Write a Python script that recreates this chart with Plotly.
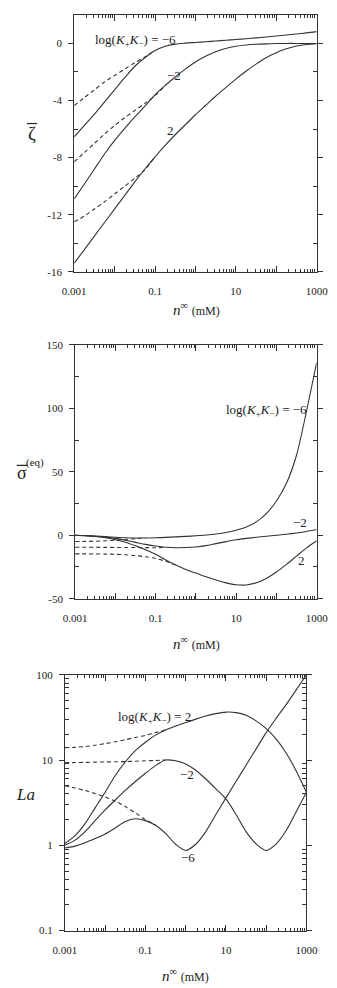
import plotly.graph_objects as go

# ---------------- data ----------------
# x grid (mM), quarter-decade steps from 0.001 to 1000
n_mM = [0.001, 0.00178, 0.00316, 0.00562, 0.01, 0.0178, 0.0316, 0.0562, 0.1, 0.178, 0.316, 0.562,
        1, 1.78, 3.16, 5.62, 10, 17.8, 31.6, 56.2, 100, 178, 316, 562, 1000]

# Panel 1: zeta-bar
zeta_m6 = [-6.55, -5.75, -4.95, -4.1, -3.25, -2.4, -1.6, -1.0, -0.5, -0.2, -0.05, 0.02, 0.07, 0.12,
           0.17, 0.22, 0.28, 0.33, 0.39, 0.45, 0.52, 0.59, 0.66, 0.74, 0.83]
zeta_m2 = [-10.9, -9.85, -8.8, -7.75, -6.8, -5.95, -5.15, -4.4, -3.6, -2.95, -2.35, -1.8, -1.3, -0.9,
           -0.58, -0.35, -0.2, -0.11, -0.06, -0.03, -0.01, 0.0, 0.0, 0.0, 0.0]
zeta_p2 = [-15.4, -14.45, -13.5, -12.55, -11.6, -10.65, -9.7, -8.8, -7.95, -7.15, -6.4, -5.7, -5.0,
           -4.35, -3.7, -3.1, -2.5, -1.95, -1.45, -1.0, -0.65, -0.38, -0.18, -0.07, -0.02]
zeta_m6_d = [-4.35, -3.8, -3.25, -2.7, -2.25, -1.8, -1.35, -0.95, -0.5]
zeta_m2_d = [-8.3, -7.65, -7.0, -6.35, -5.75, -5.2, -4.7, -4.2, -3.65, -2.97]
zeta_p2_d = [-12.5, -12.1, -11.6, -11.1, -10.55, -10.0, -9.45, -8.85, -7.95]

# Panel 2: sigma-bar (eq)
sig_m6 = [0.0, -0.2, -0.6, -1.1, -1.6, -2.0, -2.2, -2.2, -2.0, -1.7, -1.3, -0.9, -0.4, 0.2, 1.0, 2.2,
          4.0, 6.5, 10.5, 17, 27, 41, 63, 98, 136]
sig_m2 = [0.0, -0.3, -0.8, -1.5, -2.5, -4.0, -5.6, -7.2, -8.5, -9.4, -9.8, -9.7, -9.2, -8.2, -6.6,
          -5.0, -3.5, -2.5, -1.6, -0.8, 0.0, 0.8, 1.8, 3.0, 4.5]
sig_p2 = [0.0, -0.4, -1.0, -2.0, -3.5, -5.5, -8.3, -11.5, -15.0, -19.5, -23.5, -27.0, -29.8, -32.7,
          -35.3, -37.5, -39.0, -39.2, -37.5, -34.0, -29.0, -23.0, -16.5, -10.0, -4.4]
sig_m6_d = [-4.9, -4.85, -4.7, -4.4, -3.9, -3.3, -2.7, -2.25]
sig_m2_d = [-9.5, -9.5, -9.5, -9.55, -9.6, -9.65, -9.7, -9.75, -9.8, -9.5]
sig_p2_d = [-14.7, -14.7, -14.75, -14.85, -15.0, -15.4, -16.0, -17.0, -18.3, -20.5, -23.5]

# Panel 3: La
la_m6 = [0.93, 0.98, 1.07, 1.2, 1.36, 1.6, 1.9, 2.05, 1.95, 1.72, 1.38, 1.03, 0.87, 1.03, 1.45, 2.3,
         3.6, 5.6, 8.7, 13.5, 21, 31, 45, 67, 100]
la_m2 = [1.0, 1.15, 1.45, 1.95, 2.6, 3.4, 4.4, 5.6, 7.0, 8.6, 10.0, 9.8, 9.0, 7.6, 6.0, 4.6, 3.5,
         2.3, 1.45, 1.04, 0.87, 1.04, 1.5, 2.5, 4.2]
la_p2 = [1.05, 1.3, 1.8, 2.75, 4.2, 6.6, 9.5, 12.9, 16.2, 19.6, 22.5, 25.0, 27.5, 30.2, 32.8, 35.0,
         36.5, 36.0, 33.5, 28.8, 23.4, 17.6, 12.0, 7.4, 4.2]
la_m6_d = [5.0, 4.7, 4.4, 4.05, 3.7, 3.3, 2.85, 2.4, 2.0, 1.73]
la_m2_d = [9.3, 9.35, 9.4, 9.45, 9.5, 9.55, 9.6, 9.7, 9.8, 9.9, 10.0]
la_p2_d = [14.0, 14.1, 14.4, 14.9, 15.6, 16.4, 17.3, 18.4, 19.5, 21.0, 22.5]

x_ticks = [0.001, 0.01, 0.1, 1, 10, 100, 1000]
x_ticktext = ["0.001", "", "0.1", "", "10", "", "1000"]

# ---------------- figure ----------------
W, H = 337, 988
INK = "#333333"
FONT = "Liberation Serif, Times New Roman, serif"

def px(x):
    return x / W

def py(y):
    return 1 - y / H

fig = go.Figure()

def add(y, xa, ya, dash=False):
    fig.add_trace(go.Scatter(
        x=n_mM[:len(y)], y=y, xaxis=xa, yaxis=ya, mode="lines",
        line=dict(color=INK, width=1.1, dash="4px,3px" if dash else "solid",
                  shape="spline", smoothing=0.8),
        showlegend=False, hoverinfo="skip"))

for ys in (zeta_m6, zeta_m2, zeta_p2):
    add(ys, "x", "y")
for ys in (zeta_m6_d, zeta_m2_d, zeta_p2_d):
    add(ys, "x", "y", True)
for ys in (sig_m6, sig_m2, sig_p2):
    add(ys, "x2", "y2")
for ys in (sig_m6_d, sig_m2_d, sig_p2_d):
    add(ys, "x2", "y2", True)
for ys in (la_m6, la_m2, la_p2):
    add(ys, "x3", "y3")
for ys in (la_m6_d, la_m2_d, la_p2_d):
    add(ys, "x3", "y3", True)

minor_x = [m * 10.0 ** e for e in range(-3, 3) for m in range(2, 10)]

def xaxis(dom, anchor):
    return dict(type="log", range=[-3, 3], domain=dom, anchor=anchor,
                tickmode="array", tickvals=x_ticks, ticktext=x_ticktext,
                ticks="inside", ticklen=6, ticklabelstandoff=9,
                tickcolor=INK, tickwidth=1, showline=True, linecolor=INK, linewidth=1,
                mirror="allticks", showgrid=False, zeroline=False,
                tickfont=dict(family=FONT, size=11, color="#222"),
                minor=dict(tickmode="array", tickvals=minor_x, ticks="inside", ticklen=3,
                           tickcolor=INK, showgrid=False))

def yaxis(dom, anchor, rng, tv, tt, mv, log=False):
    d = dict(range=rng, domain=dom, anchor=anchor, tickmode="array", tickvals=tv, ticktext=tt,
             ticks="outside", ticklen=5, ticklabelstandoff=4, tickcolor=INK, tickwidth=1,
             showline=True, linecolor=INK, linewidth=1, mirror="allticks",
             showgrid=False, zeroline=False,
             tickfont=dict(family=FONT, size=11, color="#222"),
             minor=dict(tickmode="array", tickvals=mv, ticks="inside", ticklen=4,
                        tickcolor=INK, showgrid=False))
    if log:
        d["type"] = "log"
    return d

minor_y3 = [m * 10.0 ** e for e in range(-1, 2) for m in range(2, 10)]

fig.update_layout(
    width=W, height=H, margin=dict(l=0, r=0, t=0, b=0),
    paper_bgcolor="white", plot_bgcolor="white",
    xaxis=xaxis([px(67), px(328)], "y"),
    yaxis=yaxis([py(269), py(9)], "x", [-16, 2], [-16, -12, -8, -4, 0],
                ["-16", "-12", "-8", "-4", "0"], [-14, -10, -6, -2, 2]),
    xaxis2=xaxis([px(68), px(328)], "y2"),
    yaxis2=yaxis([py(600), py(343)], "x2", [-50, 150], [-50, 0, 50, 100, 150],
                 ["-50", "0", "50", "100", "150"], [-25, 25, 75, 125]),
    xaxis3=xaxis([px(57), px(317)], "y3"),
    yaxis3=yaxis([py(936), py(677)], "x3", [-1, 2], [0.1, 1, 10, 100],
                 ["0.1", "1", "10", "100"], minor_y3, log=True),
)

ann = []
def txt(x, y, s, size=12, xanchor="center"):
    ann.append(dict(x=px(x), y=py(y), xref="paper", yref="paper", text=s, showarrow=False,
                    xanchor=xanchor, yanchor="middle",
                    font=dict(family=FONT, size=size, color="#222")))

shapes = []
def bar(x0, x1, y):
    shapes.append(dict(type="line", xref="paper", yref="paper", x0=px(x0), x1=px(x1),
                       y0=py(y), y1=py(y), line=dict(color="#222", width=1.2)))

lab = "log(<i>K</i><sub>+</sub><i>K</i><sub>\u2212</sub>) = "
xtitle = "<i>n</i><sup>\u221e</sup> <span style='font-size:12px'>(mM)</span>"
# panel 1
txt(87, 35, lab + "\u22126", 13, "left")
txt(174, 70, "\u22122", 13)
txt(171, 126, "2", 13)
txt(199, 307, xtitle, 15)
txt(21, 129, "\u03b6", 19)
bar(16, 27, 119)
# panel 2
txt(228, 409, lab + "\u22126", 13, "left")
txt(310, 523, "\u22122", 13)
txt(312, 561, "2", 13)
txt(199, 645, xtitle, 15)
txt(11, 473, "\u03c3", 18)
bar(5, 17, 465)
txt(25, 462, "(eq)", 11)
# panel 3
txt(112, 720, lab + "2", 13, "left")
txt(188, 778, "\u22122", 13)
txt(190, 862, "\u22126", 13)
txt(187, 981, xtitle, 15)
txt(14, 798, "<i>La</i>", 17)

fig.update_layout(annotations=ann, shapes=shapes)
fig.write_html("out.html")
